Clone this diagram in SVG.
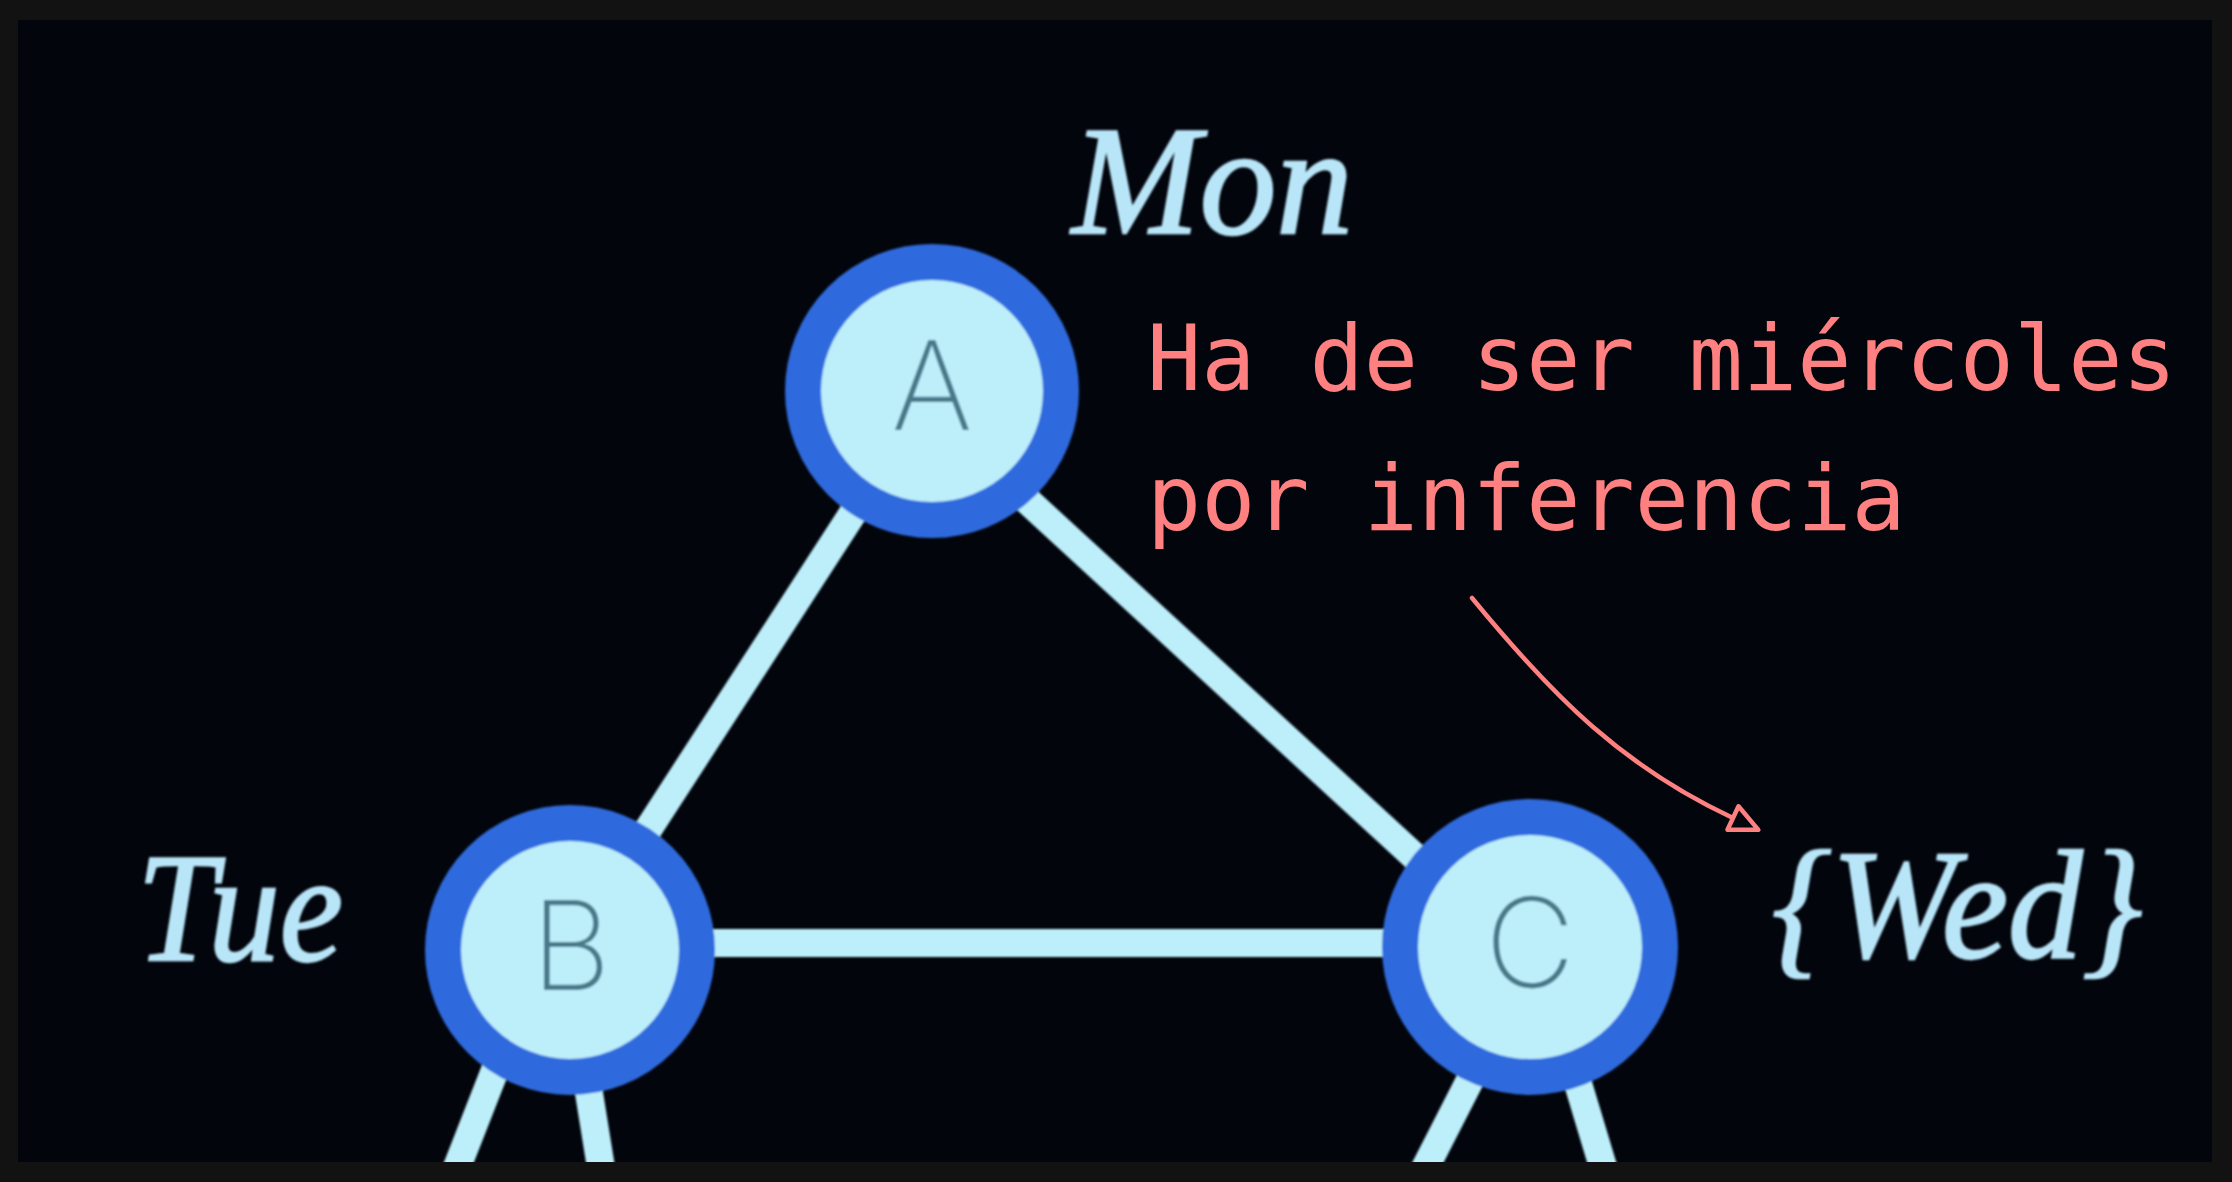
<svg xmlns="http://www.w3.org/2000/svg" width="2232" height="1182" viewBox="0 0 2232 1182">
  <style>
    .edge { stroke: #bdeffa; stroke-width: 28; stroke-linecap: butt; fill: none; }
    .ring { fill: #bdeffa; stroke: #2f6bdd; stroke-width: 36; }
    .nlabel { font-family: Inter, Lato, "Liberation Sans", sans-serif; font-weight: 200; font-size: 124px; fill: #47798a; text-anchor: middle; }
    .day { font-family: "Liberation Serif", "DejaVu Serif", serif; font-style: italic; font-size: 155px; fill: #b8e6f8; stroke: #b8e6f8; stroke-width: 2.5; }
    .note { font-family: "DejaVu Sans Mono", "Liberation Mono", monospace; font-size: 90px; fill: #ff8080; }
    .annot { stroke: #ff8080; stroke-width: 4.5; fill: none; stroke-linecap: round; }
  </style>
  <defs>
    <clipPath id="inner">
      <rect x="18" y="20" width="2194" height="1142"/>
    </clipPath>
    <filter id="soft" x="-5%" y="-5%" width="110%" height="110%">
      <feGaussianBlur stdDeviation="1.2"/>
    </filter>
    <marker id="hollow" markerUnits="userSpaceOnUse" viewBox="-4 -18 36 36" markerWidth="36" markerHeight="36" refX="0" refY="0" orient="auto">
      <path d="M0,-13 L28,0 L0,13 Z" fill="#05070e" stroke="#ff8080" stroke-width="4.5" stroke-linejoin="round"/>
    </marker>
  </defs>
  <rect x="0" y="0" width="2232" height="1182" fill="#121212"/>
  <rect x="18" y="20" width="2194" height="1142" fill="#03050d"/>
  <g clip-path="url(#inner)">
    <g filter="url(#soft)">
      <g id="connectors">
        <line class="edge" x1="932" y1="391" x2="570" y2="950"/>
        <line class="edge" x1="908" y1="391" x2="1513" y2="947"/>
        <line class="edge" x1="570" y1="943" x2="1530" y2="943"/>
        <line class="edge" x1="542" y1="950" x2="452" y2="1180"/>
        <line class="edge" x1="566" y1="950" x2="603" y2="1180"/>
        <line class="edge" x1="1538" y1="947" x2="1419" y2="1180"/>
        <line class="edge" x1="1537" y1="947" x2="1607" y2="1180"/>
      </g>
      <g id="node-A">
        <circle class="ring" cx="932" cy="391" r="129"/>
        <text class="nlabel" x="932" y="430">A</text>
      </g>
      <g id="node-B">
        <circle class="ring" cx="570" cy="950" r="127"/>
        <text class="nlabel" x="571" y="990">B</text>
      </g>
      <g id="node-C">
        <circle class="ring" cx="1530" cy="947" r="130"/>
        <text class="nlabel" x="1530" y="987">C</text>
      </g>
      <g id="labels">
        <text class="day" x="1072" y="233" textLength="281" lengthAdjust="spacingAndGlyphs">Mon</text>
        <text class="day" x="137" y="960" textLength="206" lengthAdjust="spacingAndGlyphs">Tue</text>
        <text class="day" x="1772" y="957" textLength="370" lengthAdjust="spacingAndGlyphs">{Wed}</text>
      </g>
    </g>
    <g id="annotation">
      <text class="note" x="1147" y="390">Ha de ser miércoles</text>
      <text class="note" x="1147" y="530">por inferencia</text>
      <path class="annot" d="M1472,598 C1555,699 1624,767 1733,818" marker-end="url(#hollow)"/>
    </g>
  </g>
</svg>
